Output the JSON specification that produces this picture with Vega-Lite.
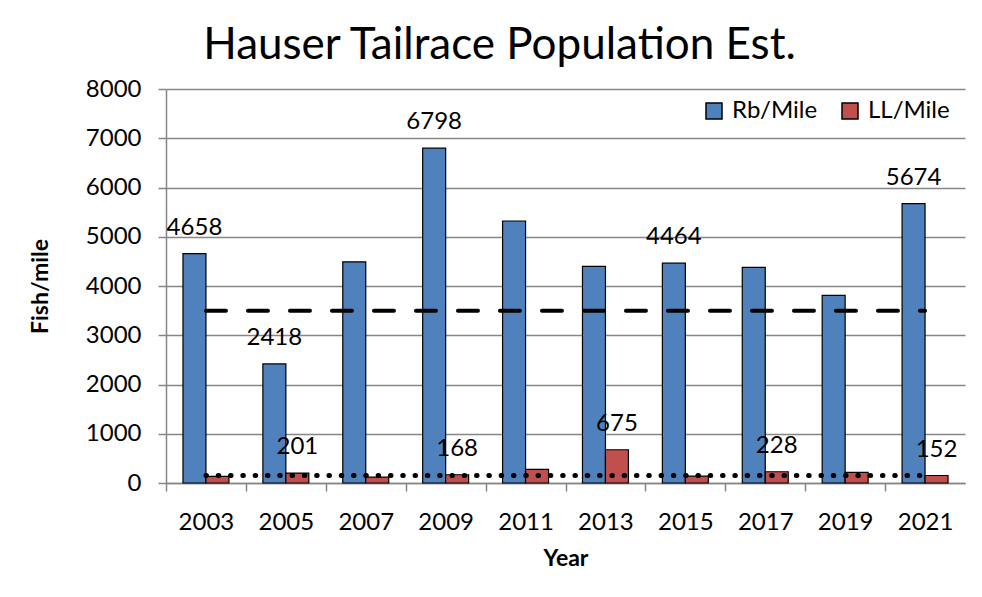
{
  "$schema": "https://vega.github.io/schema/vega-lite/v6.json",
  "width": 799,
  "height": 394,
  "autosize": {"type": "none"},
  "padding": {"left": 166, "top": 89, "right": 17, "bottom": 114},
  "background": "white",
  "title": {"text": "Hauser Tailrace Population Est.", "font": "Lato", "fontSize": 44, "fontWeight": "normal", "color": "black", "anchor": "middle", "dx": -66, "offset": 9},
  "config": {"view": {"stroke": null}, "font": "Lato"},
  "datasets": {
    "bars": [
      {"year": "2003", "series": "Rb/Mile", "value": 4658, "labeled": true},
      {"year": "2005", "series": "Rb/Mile", "value": 2418, "labeled": true},
      {"year": "2007", "series": "Rb/Mile", "value": 4490, "labeled": false},
      {"year": "2009", "series": "Rb/Mile", "value": 6798, "labeled": true},
      {"year": "2011", "series": "Rb/Mile", "value": 5320, "labeled": false},
      {"year": "2013", "series": "Rb/Mile", "value": 4400, "labeled": false},
      {"year": "2015", "series": "Rb/Mile", "value": 4464, "labeled": true},
      {"year": "2017", "series": "Rb/Mile", "value": 4380, "labeled": false},
      {"year": "2019", "series": "Rb/Mile", "value": 3810, "labeled": false},
      {"year": "2021", "series": "Rb/Mile", "value": 5674, "labeled": true},
      {"year": "2003", "series": "LL/Mile", "value": 135, "labeled": false},
      {"year": "2005", "series": "LL/Mile", "value": 201, "labeled": true},
      {"year": "2007", "series": "LL/Mile", "value": 120, "labeled": false},
      {"year": "2009", "series": "LL/Mile", "value": 168, "labeled": true},
      {"year": "2011", "series": "LL/Mile", "value": 275, "labeled": false},
      {"year": "2013", "series": "LL/Mile", "value": 675, "labeled": true},
      {"year": "2015", "series": "LL/Mile", "value": 140, "labeled": false},
      {"year": "2017", "series": "LL/Mile", "value": 228, "labeled": true},
      {"year": "2019", "series": "LL/Mile", "value": 215, "labeled": false},
      {"year": "2021", "series": "LL/Mile", "value": 152, "labeled": true}
    ],
    "dashed": [
      {"year": "2003", "value": 3500}, {"year": "2005", "value": 3500}, {"year": "2007", "value": 3500},
      {"year": "2009", "value": 3500}, {"year": "2011", "value": 3500}, {"year": "2013", "value": 3500},
      {"year": "2015", "value": 3500}, {"year": "2017", "value": 3500}, {"year": "2019", "value": 3500},
      {"year": "2021", "value": 3500}
    ],
    "dotted": [
      {"year": "2003", "value": 150}, {"year": "2005", "value": 150}, {"year": "2007", "value": 150},
      {"year": "2009", "value": 150}, {"year": "2011", "value": 150}, {"year": "2013", "value": 150},
      {"year": "2015", "value": 150}, {"year": "2017", "value": 150}, {"year": "2019", "value": 150},
      {"year": "2021", "value": 150}
    ]
  },
  "encoding": {
    "x": {
      "field": "year", "type": "nominal",
      "scale": {"paddingInner": 0.425, "paddingOuter": 0.2125},
      "axis": {
        "title": "Year", "titleFont": "Lato", "titleFontSize": 23, "titleFontWeight": "bold", "titleColor": "black",
        "titleY": 75, "titleBaseline": "middle",
        "labelAngle": 0, "labelFont": "Lato", "labelFontSize": 24, "labelColor": "black", "labelPadding": 19, "labelBaseline": "top",
        "tickOffset": -39.95, "labelOffset": 39.95, "tickSize": 8, "tickColor": "#868686", "tickWidth": 1.5,
        "domainColor": "#868686", "domainWidth": 1.5, "grid": false
      }
    },
    "y": {
      "field": "value", "type": "quantitative",
      "scale": {"domain": [0, 8000], "nice": false},
      "axis": {
        "title": "Fish/mile", "titleFont": "Lato", "titleFontSize": 23, "titleFontWeight": "bold", "titleColor": "black",
        "titleAngle": -90, "titleX": -126, "titleY": 197, "titleBaseline": "middle", "titleAlign": "center",
        "values": [0, 1000, 2000, 3000, 4000, 5000, 6000, 7000, 8000], "format": "d",
        "labelFont": "Lato", "labelFontSize": 24, "labelColor": "black", "labelPadding": 17,
        "tickSize": 8, "tickColor": "#868686", "tickWidth": 1.5,
        "grid": true, "gridColor": "#868686", "gridWidth": 1.5,
        "domainColor": "#868686", "domainWidth": 1.5
      }
    }
  },
  "layer": [
    {
      "data": {"name": "bars"},
      "mark": {"type": "bar", "stroke": "black", "strokeWidth": 1.2},
      "encoding": {
        "xOffset": {"field": "series", "type": "nominal", "sort": ["Rb/Mile", "LL/Mile"], "scale": {"paddingInner": 0, "paddingOuter": 0}},
        "color": {
          "field": "series", "type": "nominal", "sort": ["Rb/Mile", "LL/Mile"],
          "scale": {"domain": ["Rb/Mile", "LL/Mile"], "range": ["#4F81BD", "#C0504D"]},
          "legend": {
            "orient": "none", "legendX": 536, "legendY": 10, "direction": "horizontal", "title": null,
            "symbolType": "square", "symbolSize": 256, "symbolStrokeColor": "black", "symbolStrokeWidth": 1.5, "symbolOpacity": 1,
            "labelFont": "Lato", "labelFontSize": 24, "labelColor": "black", "labelOffset": 6, "columnPadding": 20
          }
        }
      }
    },
    {
      "data": {"name": "dashed"},
      "mark": {"type": "line", "color": "black", "strokeWidth": 4, "strokeDash": [20, 22], "strokeCap": "round"},
      "encoding": {}
    },
    {
      "data": {"name": "dotted"},
      "mark": {"type": "line", "color": "black", "strokeWidth": 5, "strokeDash": [0.5, 11.8], "strokeCap": "round"},
      "encoding": {}
    },
    {
      "data": {"name": "bars"},
      "transform": [{"filter": "datum.labeled"}],
      "mark": {"type": "text", "dy": -26, "font": "Lato", "fontSize": 24, "color": "black", "baseline": "middle"},
      "encoding": {
        "xOffset": {"field": "series", "type": "nominal", "sort": ["Rb/Mile", "LL/Mile"]},
        "text": {"field": "value", "type": "quantitative", "format": "d"}
      }
    }
  ]
}
